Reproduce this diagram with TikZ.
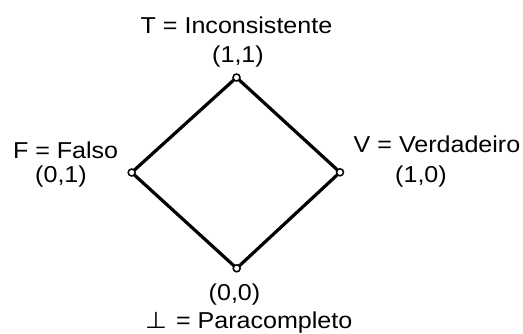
\documentclass[tikz,border=0pt]{standalone}
\usepackage{fontspec}
\setmainfont[FakeStretch=1.09]{Liberation Sans}
\newfontfamily\symfont[FakeStretch=1.09]{DejaVu Sans}
\begin{document}
\begin{tikzpicture}[x=1pt,y=-1pt,
  vtx/.style={circle,draw=black,fill=white,line width=1.5pt,inner sep=0pt,minimum size=7pt},
  lbl/.style={inner sep=0pt,anchor=base,font=\fontsize{23}{27}\selectfont},
  edge/.style={line width=3.2pt,line join=round}]
\useasboundingbox (0,0) rectangle (523,333);
\coordinate (pt) at (236.5,77.5);
\coordinate (pl) at (131.7,172.5);
\coordinate (pr) at (340,172.3);
\coordinate (pb) at (236.7,268.3);
\draw[edge] (pt) -- (pr) -- (pb) -- (pl) -- cycle;
\node[vtx] (t) at (pt) {};
\node[vtx] (l) at (pl) {};
\node[vtx] (r) at (pr) {};
\node[vtx] (b) at (pb) {};
\node[lbl] (tl1) at (236.5,33) {T = Inconsistente};
\node[lbl] (tl2) at (238,62) {(1,1)};
\node[lbl] (ll1) at (65.6,158) {F = Falso};
\node[lbl] (ll2) at (61,182) {(0,1)};
\node[lbl] (rl1) at (437,152) {V = Verdadeiro};
\node[lbl] (rl2) at (421,182) {(1,0)};
\node[lbl] (bl1) at (234.5,300) {(0,0)};
\node[lbl,anchor=base west] (bl2) at (145,328) {{\symfont ⊥}\hspace{9pt}= Paracompleto};
\end{tikzpicture}
\end{document}
